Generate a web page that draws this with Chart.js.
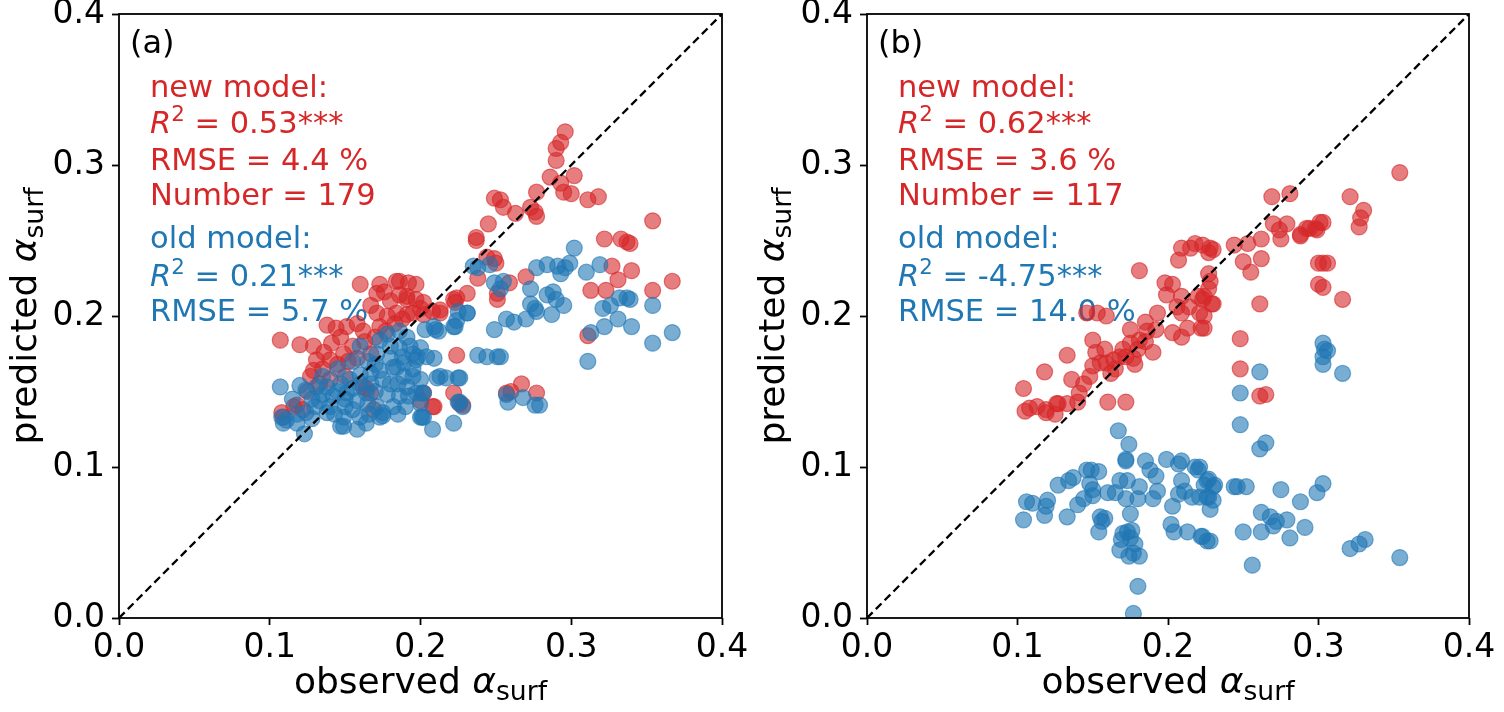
<!DOCTYPE html>
<html>
<head>
  <meta charset="utf-8" />
  <title>Observed vs predicted surface albedo</title>
  <script src="https://cdn.jsdelivr.net/npm/chart.js@4.4.1/dist/chart.umd.min.js"></script>
  <style>
    body { margin: 0; background: #fff; }
    #wrap { position: relative; width: 1504px; height: 712px; }
    canvas { position: absolute; top: 0; }
  </style>
</head>
<body>
<div id="wrap">
  <canvas id="chartA" width="752" height="712" style="left:0"></canvas>
  <canvas id="chartB" width="752" height="712" style="left:752px"></canvas>
</div>
<script>
  // axis range and ticks (same for both panels)
  var axisMin = 0, axisMax = 0.4;
  var tickValues = [0, 0.1, 0.2, 0.3, 0.4];
  var tickLabels = ['0.0', '0.1', '0.2', '0.3', '0.4'];

  // panel (a): [observed, predicted]
  var aNew = [
    [0.296,0.322],[0.293,0.315],[0.290,0.311],[0.290,0.303],[0.302,0.293],[0.286,0.292],[0.293,0.288],[0.295,0.282],
    [0.300,0.281],[0.311,0.277],[0.318,0.279],[0.277,0.282],[0.249,0.278],[0.253,0.277],[0.255,0.272],[0.263,0.268],
    [0.273,0.272],[0.276,0.269],[0.277,0.266],[0.245,0.261],[0.237,0.252],[0.237,0.250],[0.354,0.263],[0.322,0.251],
    [0.333,0.251],[0.337,0.249],[0.339,0.248],[0.249,0.238],[0.250,0.235],[0.244,0.239],[0.238,0.225],[0.270,0.226],
    [0.259,0.222],[0.251,0.211],[0.251,0.215],[0.327,0.233],[0.340,0.230],[0.331,0.224],[0.313,0.217],[0.323,0.217],
    [0.354,0.217],[0.367,0.223],[0.231,0.215],[0.224,0.212],[0.223,0.209],[0.213,0.204],[0.208,0.203],[0.200,0.205],
    [0.195,0.202],[0.191,0.211],[0.192,0.222],[0.197,0.221],[0.186,0.223],[0.224,0.174],[0.311,0.187],[0.222,0.149],
    [0.200,0.144],[0.208,0.140],[0.228,0.141],[0.267,0.155],[0.260,0.150],[0.277,0.149],[0.257,0.149],
    [0.160,0.221],[0.173,0.221],[0.171,0.215],[0.184,0.223],[0.191,0.213],[0.197,0.211],[0.202,0.209],[0.167,0.207],
    [0.171,0.202],[0.178,0.200],[0.184,0.202],[0.191,0.201],[0.202,0.201],[0.213,0.202],[0.222,0.211],[0.138,0.194],
    [0.144,0.192],[0.151,0.193],[0.158,0.195],[0.162,0.190],[0.147,0.186],[0.141,0.182],[0.107,0.184],[0.120,0.181],
    [0.129,0.180],[0.136,0.176],[0.131,0.171],[0.129,0.164],[0.140,0.171],[0.149,0.175],[0.155,0.180],[0.127,0.160],
    [0.167,0.175],[0.173,0.193],[0.167,0.149],[0.162,0.153],[0.202,0.149],[0.209,0.140],[0.116,0.140],[0.122,0.138],
    [0.109,0.133],[0.226,0.142],[0.108,0.136],[0.118,0.141],[0.164,0.152],[0.169,0.138],
    [0.135,0.165],[0.145,0.168],[0.152,0.170],[0.158,0.172],[0.163,0.183],[0.170,0.186],[0.177,0.190],[0.183,0.195],
    [0.188,0.198],[0.150,0.160],[0.140,0.158],[0.125,0.150],[0.133,0.155],[0.180,0.210],[0.176,0.216],[0.186,0.214]
  ];
  var aOld = [
    [0.302,0.245],[0.277,0.232],[0.284,0.234],[0.291,0.233],[0.296,0.232],[0.299,0.235],[0.293,0.228],[0.310,0.229],
    [0.319,0.234],[0.238,0.232],[0.246,0.234],[0.249,0.222],[0.253,0.218],[0.255,0.223],[0.273,0.218],[0.284,0.214],
    [0.288,0.216],[0.290,0.211],[0.295,0.207],[0.287,0.201],[0.273,0.208],[0.276,0.205],[0.277,0.203],[0.270,0.198],
    [0.262,0.196],[0.257,0.198],[0.249,0.191],[0.321,0.205],[0.326,0.207],[0.332,0.212],[0.337,0.212],[0.339,0.211],
    [0.354,0.207],[0.331,0.198],[0.322,0.193],[0.340,0.193],[0.313,0.189],[0.354,0.182],[0.367,0.189],[0.311,0.170],
    [0.238,0.174],[0.244,0.173],[0.251,0.173],[0.253,0.173],[0.225,0.203],[0.231,0.202],[0.223,0.193],[0.224,0.197],
    [0.210,0.191],[0.203,0.191],[0.213,0.160],[0.217,0.159],[0.225,0.159],[0.225,0.143],[0.228,0.140],[0.201,0.149],
    [0.201,0.133],[0.208,0.125],[0.222,0.129],[0.257,0.148],[0.258,0.143],[0.268,0.146],[0.276,0.141],[0.279,0.141],
    [0.204,0.173],[0.198,0.173],[0.188,0.173],
    [0.160,0.180],[0.171,0.175],[0.180,0.180],[0.186,0.179],[0.193,0.180],[0.200,0.179],[0.209,0.172],[0.197,0.171],
    [0.189,0.169],[0.182,0.166],[0.173,0.164],[0.167,0.162],[0.160,0.161],[0.153,0.158],[0.147,0.155],[0.138,0.153],
    [0.131,0.153],[0.124,0.151],[0.107,0.153],[0.120,0.154],[0.133,0.144],[0.142,0.147],[0.151,0.149],[0.158,0.144],
    [0.171,0.140],[0.175,0.136],[0.186,0.147],[0.191,0.153],[0.200,0.158],[0.189,0.160],[0.180,0.155],[0.167,0.155],
    [0.138,0.136],[0.124,0.136],[0.111,0.131],[0.149,0.133],[0.160,0.133],[0.147,0.127],[0.164,0.129],[0.173,0.133],
    [0.182,0.140],[0.209,0.193],[0.212,0.190],[0.231,0.202],[0.222,0.193],[0.235,0.233],[0.211,0.159],[0.226,0.159],
    [0.197,0.149],[0.200,0.142],[0.226,0.143],[0.202,0.133],[0.164,0.149],[0.184,0.166],
    [0.108,0.133],[0.109,0.129],[0.118,0.129],[0.123,0.122],[0.149,0.127],[0.175,0.134],[0.200,0.133],[0.202,0.149],
    [0.178,0.188],[0.186,0.190],[0.173,0.184],[0.191,0.186],[0.155,0.170],[0.145,0.165],[0.135,0.160],[0.128,0.145],
    [0.140,0.140],[0.155,0.138],[0.165,0.142],[0.178,0.148],[0.190,0.140],[0.195,0.160],[0.170,0.168],[0.150,0.145],
    [0.115,0.145],
    [0.130,0.140],[0.135,0.148],[0.145,0.150],[0.155,0.152],[0.160,0.155],[0.170,0.150],[0.175,0.158],[0.185,0.155],
    [0.195,0.165],[0.180,0.172],[0.165,0.170],[0.150,0.140],[0.143,0.135],[0.128,0.132],[0.118,0.135],[0.185,0.135],
    [0.192,0.147],[0.158,0.125],[0.166,0.135],[0.195,0.175]
  ];

  // panel (b): [observed, predicted]
  var bNew = [
    [0.269,0.279],[0.281,0.281],[0.270,0.261],[0.279,0.261],[0.274,0.257],[0.275,0.251],[0.288,0.254],[0.294,0.258],
    [0.298,0.258],[0.301,0.262],[0.262,0.251],[0.253,0.248],[0.244,0.247],[0.250,0.236],[0.262,0.238],[0.255,0.229],
    [0.261,0.208],[0.248,0.185],[0.248,0.165],[0.261,0.147],[0.265,0.148],[0.300,0.235],[0.300,0.221],[0.209,0.245],
    [0.218,0.248],[0.223,0.247],[0.228,0.245],[0.230,0.244],[0.207,0.237],[0.227,0.242],[0.227,0.228],[0.228,0.223],
    [0.227,0.218],[0.181,0.230],[0.203,0.221],[0.199,0.214],[0.209,0.213],[0.220,0.213],[0.223,0.211],[0.230,0.208],
    [0.206,0.206],[0.214,0.206],[0.221,0.202],[0.209,0.202],[0.193,0.202],[0.222,0.192],[0.213,0.192],[0.203,0.189],
    [0.209,0.186],[0.192,0.191],[0.190,0.176],[0.186,0.190],[0.181,0.184],[0.175,0.191],[0.175,0.182],[0.177,0.172],
    [0.172,0.173],[0.168,0.173],[0.164,0.171],[0.159,0.169],[0.155,0.169],[0.150,0.167],[0.152,0.176],[0.150,0.184],
    [0.158,0.178],[0.148,0.160],[0.144,0.155],[0.141,0.149],[0.133,0.174],[0.118,0.163],[0.136,0.158],[0.133,0.142],
    [0.127,0.142],[0.119,0.138],[0.108,0.139],[0.105,0.137],[0.104,0.152],[0.160,0.143],[0.172,0.143],[0.146,0.202],
    [0.153,0.202],[0.159,0.200],[0.119,0.136],[0.126,0.142],[0.354,0.295],[0.321,0.279],[0.330,0.270],[0.328,0.265],
    [0.327,0.259],[0.303,0.262],[0.299,0.257],[0.292,0.258],[0.288,0.253],[0.303,0.235],[0.306,0.235],[0.303,0.219],
    [0.316,0.211],[0.224,0.213],[0.229,0.208],[0.224,0.200],[0.224,0.192],
    [0.170,0.178],[0.180,0.178],[0.185,0.183],[0.165,0.165],[0.178,0.168],[0.162,0.162],[0.140,0.143],[0.113,0.140],
    [0.125,0.135],[0.215,0.245],[0.198,0.222],[0.185,0.196]
  ];
  var bOld = [
    [0.303,0.182],[0.304,0.178],[0.306,0.177],[0.303,0.173],[0.303,0.168],[0.316,0.162],[0.261,0.163],[0.248,0.149],
    [0.248,0.128],[0.261,0.112],[0.265,0.116],[0.244,0.087],[0.252,0.087],[0.275,0.085],[0.288,0.077],[0.299,0.083],
    [0.303,0.089],[0.262,0.070],[0.268,0.067],[0.272,0.064],[0.279,0.065],[0.270,0.061],[0.250,0.057],[0.262,0.057],
    [0.281,0.053],[0.291,0.060],[0.256,0.035],[0.321,0.046],[0.327,0.049],[0.331,0.052],[0.354,0.040],[0.221,0.100],
    [0.226,0.091],[0.230,0.087],[0.226,0.080],[0.228,0.072],[0.223,0.054],[0.228,0.051],[0.167,0.124],[0.174,0.115],
    [0.172,0.105],[0.172,0.104],[0.127,0.088],[0.134,0.091],[0.137,0.093],[0.146,0.098],[0.149,0.098],[0.154,0.097],
    [0.148,0.089],[0.150,0.085],[0.144,0.079],[0.140,0.075],[0.150,0.081],[0.160,0.083],[0.165,0.083],[0.168,0.091],
    [0.173,0.091],[0.181,0.087],[0.172,0.079],[0.180,0.079],[0.185,0.104],[0.188,0.098],[0.192,0.094],[0.193,0.084],
    [0.190,0.079],[0.199,0.105],[0.207,0.102],[0.209,0.104],[0.218,0.100],[0.220,0.098],[0.209,0.091],[0.211,0.084],
    [0.207,0.082],[0.203,0.074],[0.227,0.092],[0.231,0.088],[0.224,0.088],[0.221,0.080],[0.227,0.080],[0.230,0.078],
    [0.216,0.080],[0.106,0.077],[0.110,0.076],[0.104,0.065],[0.120,0.078],[0.119,0.074],[0.118,0.068],[0.133,0.067],
    [0.155,0.067],[0.158,0.066],[0.156,0.064],[0.154,0.057],[0.175,0.069],[0.202,0.062],[0.204,0.057],[0.213,0.057],
    [0.222,0.054],[0.226,0.051],[0.170,0.056],[0.173,0.057],[0.176,0.058],[0.169,0.052],[0.175,0.053],[0.178,0.049],
    [0.168,0.045],[0.174,0.041],[0.177,0.043],[0.181,0.041],[0.180,0.021],[0.177,0.003],[0.246,0.087]
  ];

  // annotation values
  var panelTags = ['(a)', '(b)'];
  var newR2 = ['0.53', '0.62'];
  var newRmse = ['4.4', '3.6'];
  var newCount = ['179', '117'];
  var oldR2 = ['0.21', '-4.75'];
  var oldRmse = ['5.7', '14.0'];

  var RED = '#d62728', BLUE = '#1f77b4';
  var RED_FILL = 'rgba(214,39,40,0.6)', BLUE_FILL = 'rgba(31,119,180,0.6)';
  var FAMILY = '"DejaVu Sans", sans-serif';

  function fontStr(size, italic) {
    return (italic ? 'italic ' : '') + size + 'px ' + FAMILY;
  }
  function partSize(p, size, subScale) { return (p.sup || p.sub) ? size * subScale : size; }
  function richWidth(ctx, parts, size, subScale) {
    var w = 0;
    parts.forEach(function(p) {
      ctx.font = fontStr(partSize(p, size, subScale), p.it);
      w += ctx.measureText(p.t).width;
    });
    return w;
  }
  function drawRich(ctx, x, y, parts, size, color, subScale) {
    ctx.fillStyle = color;
    ctx.textAlign = 'left';
    ctx.textBaseline = 'alphabetic';
    parts.forEach(function(p) {
      ctx.font = fontStr(partSize(p, size, subScale), p.it);
      var dy = p.sup ? -size * 0.4 : (p.sub ? size * 0.2 : 0);
      ctx.fillText(p.t, x, y + dy);
      x += ctx.measureText(p.t).width;
    });
  }

  function toPoints(arr) {
    return arr.map(function(d) { return {x: d[0], y: d[1]}; });
  }

  function makeChart(canvasId, i, newPts, oldPts, yAxisWidth, rightPad) {
    var lines = [
      {c: RED, dy: 83, parts: [{t: 'new model:'}]},
      {c: RED, dy: 119, parts: [{t: 'R', it: true}, {t: '2', sup: true}, {t: ' = ' + newR2[i] + '***'}]},
      {c: RED, dy: 156, parts: [{t: 'RMSE = ' + newRmse[i] + ' %'}]},
      {c: RED, dy: 191, parts: [{t: 'Number = ' + newCount[i]}]},
      {c: BLUE, dy: 234, parts: [{t: 'old model:'}]},
      {c: BLUE, dy: 272, parts: [{t: 'R', it: true}, {t: '2', sup: true}, {t: ' = ' + oldR2[i] + '***'}]},
      {c: BLUE, dy: 307, parts: [{t: 'RMSE = ' + oldRmse[i] + ' %'}]}
    ];
    var axisTitle = [{t: 'observed '}, {t: 'α', it: true}, {t: 'surf', sub: true}];
    var yTitle = [{t: 'predicted '}, {t: 'α', it: true}, {t: 'surf', sub: true}];

    var textPlugin = {
      id: 'panelText' + i,
      beforeDatasetsDraw: function(chart) {
        var ctx = chart.ctx, a = chart.chartArea;
        ctx.save();
        drawRich(ctx, a.left + 11, a.top + 39, [{t: panelTags[i]}], 32, '#000', 0.7);
        lines.forEach(function(l) {
          drawRich(ctx, a.left + 31, a.top + l.dy, l.parts, 30.5, l.c, 0.7);
        });
        ctx.restore();
      },
      afterDraw: function(chart) {
        var ctx = chart.ctx, a = chart.chartArea;
        ctx.save();
        ctx.strokeStyle = '#000';
        ctx.lineWidth = 1.8;
        ctx.strokeRect(a.left, a.top, a.right - a.left, a.bottom - a.top);
        var size = 36, sub = 0.74;
        var w = richWidth(ctx, axisTitle, size, sub);
        drawRich(ctx, (a.left + a.right) / 2 - w / 2, a.bottom + 75, axisTitle, size, '#000', sub);
        var wy = richWidth(ctx, yTitle, size, sub);
        ctx.translate(a.left - 83, (a.top + a.bottom) / 2);
        ctx.rotate(-Math.PI / 2);
        drawRich(ctx, -wy / 2, 0, yTitle, size, '#000', sub);
        ctx.restore();
      }
    };

    function axis(isX) {
      return {
        type: 'linear',
        min: axisMin,
        max: axisMax,
        afterBuildTicks: function(scale) {
          scale.ticks = tickValues.map(function(v) { return {value: v}; });
        },
        afterFit: function(scale) {
          if (isX) scale.height = 94; else scale.width = yAxisWidth;
          scale.paddingTop = 0; scale.paddingBottom = 0;
          scale.paddingLeft = 0; scale.paddingRight = 0;
        },
        grid: {display: true, drawOnChartArea: false, drawTicks: true,
               tickLength: 7, tickWidth: 1.8, tickColor: '#000'},
        border: {display: false},
        ticks: {
          color: '#000',
          padding: isX ? 4 : 7,
          maxRotation: 0,
          font: {family: FAMILY, size: 33},
          callback: function(v, idx) { return tickLabels[idx]; }
        }
      };
    }

    return new Chart(document.getElementById(canvasId), {
      type: 'scatter',
      data: {
        datasets: [
          {
            type: 'line',
            data: [{x: axisMin, y: axisMin}, {x: axisMax, y: axisMax}],
            borderColor: '#000',
            borderWidth: 2.3,
            borderDash: [8, 4.5],
            pointRadius: 0,
            fill: false,
            order: 0
          },
          {
            label: 'old model',
            data: toPoints(oldPts),
            backgroundColor: BLUE_FILL,
            borderColor: BLUE_FILL,
            borderWidth: 1.2,
            pointRadius: 8,
            order: 1
          },
          {
            label: 'new model',
            data: toPoints(newPts),
            backgroundColor: RED_FILL,
            borderColor: RED_FILL,
            borderWidth: 1.2,
            pointRadius: 8,
            order: 2
          }
        ]
      },
      options: {
        responsive: false,
        animation: false,
        events: [],
        layout: {padding: {left: 0, right: rightPad, top: 14, bottom: 0}},
        plugins: {legend: {display: false}, tooltip: {enabled: false}},
        scales: {x: axis(true), y: axis(false)}
      },
      plugins: [textPlugin]
    });
  }

  makeChart('chartA', 0, aNew, aOld, 119, 30);
  makeChart('chartB', 1, bNew, bOld, 115, 35);
</script>
</body>
</html>
